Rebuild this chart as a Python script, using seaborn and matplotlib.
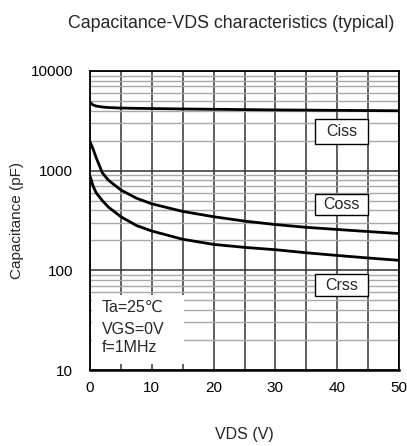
import matplotlib
matplotlib.use("Agg")
import matplotlib.pyplot as plt
from matplotlib.patches import Rectangle
from matplotlib.ticker import FixedLocator, NullFormatter
import seaborn as sns
import pandas as pd

# ---- data ----
vds = [0, 0.5, 1, 2, 3, 5, 7.5, 10, 15, 20, 25, 30, 35, 40, 45, 50]
ciss = [4850, 4560, 4450, 4350, 4300, 4250, 4220, 4200, 4160, 4130, 4100, 4070, 4050, 4030, 4010, 3990]
coss = [1950, 1650, 1350, 950, 800, 640, 530, 465, 390, 345, 312, 288, 270, 257, 245, 234]
crss = [880, 700, 600, 500, 430, 345, 282, 248, 205, 182, 170, 161, 150, 141, 133, 126]
series_names = ["Ciss", "Coss", "Crss"]
x_ticks = [0, 10, 20, 30, 40, 50]
y_ticks = [10, 100, 1000, 10000]
conditions = ["Ta=25\u2103", "VGS=0V", "f=1MHz"]

df = pd.DataFrame({
    "VDS": vds * 3,
    "C": ciss + coss + crss,
    "series": sum([[n] * len(vds) for n in series_names], []),
})

sns.set_style("white")
plt.rcParams["font.family"] = ["Liberation Sans", "DejaVu Sans", "Noto Sans CJK JP"]
plt.rcParams["font.size"] = 11

fig = plt.figure(figsize=(4.07, 4.46), dpi=100)
ax = fig.add_axes([90 / 407, 1 - 370 / 446, 309 / 407, 299 / 446])

sns.lineplot(data=df, x="VDS", y="C", units="series", estimator=None,
             color="black", lw=2.0, ax=ax, legend=False, zorder=5)

ax.set_yscale("log")
ax.set_xlim(0, 50)
ax.set_ylim(10, 10000)
ax.set_xticks(x_ticks)
ax.set_xticklabels([str(t) for t in x_ticks])
ax.xaxis.set_minor_locator(FixedLocator([5, 15, 25, 35, 45]))
ax.set_yticks(y_ticks)
ax.set_yticklabels([str(t) for t in y_ticks])
minor_y = [m * 10 ** d for d in range(1, 4) for m in range(2, 10)]
ax.yaxis.set_minor_locator(FixedLocator(minor_y))
ax.yaxis.set_minor_formatter(NullFormatter())

grid_dark = "#333333"
grid_light = "#a8a8a8"
ax.grid(which="major", axis="both", color=grid_dark, lw=1.1, zorder=1)
ax.grid(which="minor", axis="x", color=grid_dark, lw=1.1, zorder=1)
ax.grid(which="minor", axis="y", color=grid_light, lw=1.0, zorder=1)
ax.set_axisbelow(True)
ax.tick_params(axis="both", which="major", length=0, labelsize=11, colors="black")
ax.tick_params(axis="y", which="major", pad=12)
ax.tick_params(axis="x", which="minor", direction="in", length=4, color=grid_dark, width=1.1)
ax.tick_params(axis="y", which="minor", direction="in", length=2.5, color=grid_light)
ax.tick_params(axis="x", which="major", direction="in", length=4, pad=8, color=grid_dark, width=1.1)

for s in ax.spines.values():
    s.set_color("black")
    s.set_linewidth(1.3)
ax.spines["bottom"].set_linewidth(1.8)

ax.set_xlabel("VDS (V)", fontsize=11.5, labelpad=23)
ax.set_ylabel("Capacitance (pF)", fontsize=11, labelpad=5)

# series label boxes
box_y = {"Ciss": (1862, 3311), "Coss": (355, 589), "Crss": (55, 91)}
for name in series_names:
    y0, y1 = box_y[name]
    ax.add_patch(Rectangle((36.4, y0), 8.6, y1 - y0, facecolor="white",
                           edgecolor="black", lw=1.0, zorder=6))
    ax.text(40.7, (y0 * y1) ** 0.5, name, ha="center", va="center",
            fontsize=11.5, zorder=7)

# conditions box
ax.add_patch(Rectangle((0.32, 11.4), 14.9, 56.2 - 11.4, facecolor="white",
                       edgecolor="none", zorder=3))
for txt, yv in zip(conditions, [42.7, 25.7, 16.8]):
    ax.text(1.9, yv, txt, ha="left", va="center", fontsize=11.5, zorder=7)

fig.text(231 / 407, 1 - 24 / 446, "Capacitance-VDS characteristics (typical)",
         ha="center", va="center", fontsize=12.8)

fig.savefig("out.png", dpi=100)
